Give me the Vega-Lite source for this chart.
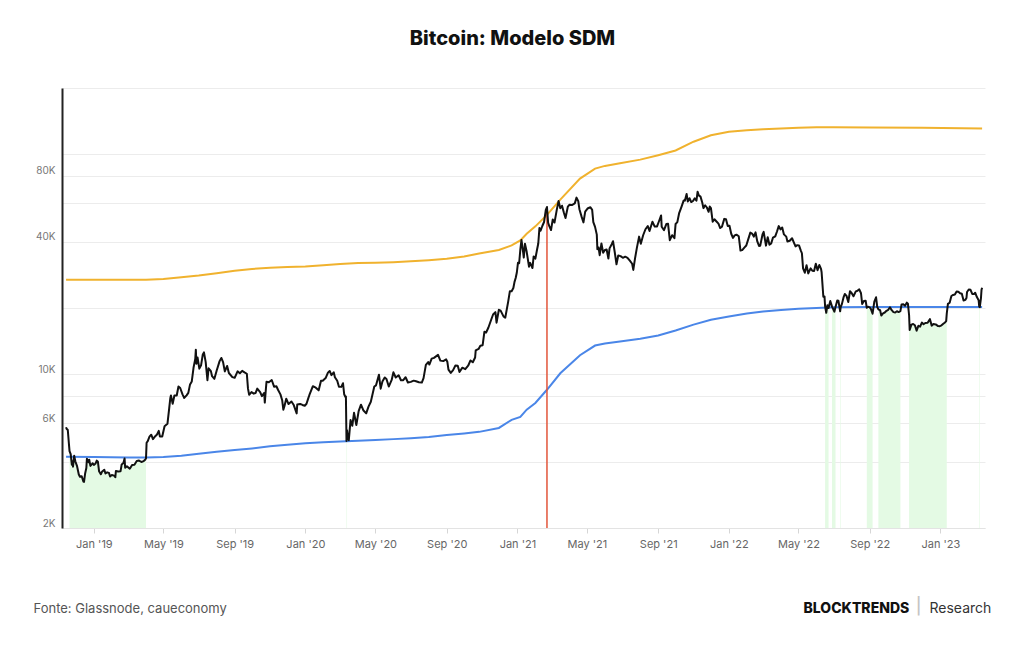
{
"$schema":"https://vega.github.io/schema/vega-lite/v6.json",
"width":923,"height":440,
"autosize":{"type":"none"},
"padding":{"left":62,"top":88,"right":39,"bottom":117},
"background":"white",
"title":{"text":"Bitcoin: Modelo SDM","font":"Inter","fontSize":20,"fontWeight":800,"color":"#111","anchor":"middle","offset":29,"dx":-11},
"config":{"view":{"stroke":null},"font":"Inter"},
"resolve":{"axis":{"x":"independent","y":"independent"}},
"datasets":{
"price":[
{"d":"2018-11-14","p":5740},{"d":"2018-11-15","p":5650},{"d":"2018-11-17","p":5580},{"d":"2018-11-19","p":4800},
{"d":"2018-11-20","p":4470,"g":1},{"d":"2018-11-22","p":4330,"g":1},{"d":"2018-11-24","p":3880,"g":1},{"d":"2018-11-25","p":4010,"g":1},{"d":"2018-11-26","p":3800,"g":1},{"d":"2018-11-28","p":4260,"g":1},{"d":"2018-11-30","p":4020,"g":1},
{"d":"2018-12-03","p":3820,"g":1},{"d":"2018-12-06","p":3500,"g":1},{"d":"2018-12-08","p":3420,"g":1},{"d":"2018-12-11","p":3440,"g":1},{"d":"2018-12-14","p":3250,"g":1},{"d":"2018-12-15","p":3240,"g":1},{"d":"2018-12-17","p":3550,"g":1},{"d":"2018-12-19","p":3750,"g":1},{"d":"2018-12-20","p":4130,"g":1},{"d":"2018-12-23","p":3980,"g":1},{"d":"2018-12-24","p":4090,"g":1},{"d":"2018-12-26","p":3830,"g":1},{"d":"2018-12-28","p":3880,"g":1},{"d":"2018-12-30","p":3940,"g":1},
{"d":"2019-01-01","p":3870,"g":1},{"d":"2019-01-04","p":3930,"g":1},{"d":"2019-01-06","p":4050,"g":1},{"d":"2019-01-08","p":4000,"g":1},{"d":"2019-01-10","p":3620,"g":1},{"d":"2019-01-13","p":3510,"g":1},{"d":"2019-01-15","p":3600,"g":1},{"d":"2019-01-19","p":3680,"g":1},{"d":"2019-01-21","p":3540,"g":1},{"d":"2019-01-24","p":3580,"g":1},{"d":"2019-01-27","p":3560,"g":1},{"d":"2019-01-29","p":3430,"g":1},
{"d":"2019-02-01","p":3480,"g":1},{"d":"2019-02-05","p":3460,"g":1},{"d":"2019-02-07","p":3400,"g":1},{"d":"2019-02-08","p":3630,"g":1},{"d":"2019-02-12","p":3610,"g":1},{"d":"2019-02-16","p":3620,"g":1},{"d":"2019-02-18","p":3890,"g":1},{"d":"2019-02-21","p":3950,"g":1},{"d":"2019-02-23","p":4140,"g":1},{"d":"2019-02-24","p":3760,"g":1},{"d":"2019-02-27","p":3820,"g":1},
{"d":"2019-03-04","p":3720,"g":1},{"d":"2019-03-08","p":3870,"g":1},{"d":"2019-03-12","p":3880,"g":1},{"d":"2019-03-16","p":4030,"g":1},{"d":"2019-03-20","p":4050,"g":1},{"d":"2019-03-24","p":3990,"g":1},{"d":"2019-03-28","p":4030,"g":1},{"d":"2019-03-31","p":4100,"g":1},{"d":"2019-04-01","p":4150,"g":1},
{"d":"2019-04-02","p":4880},{"d":"2019-04-04","p":4960},{"d":"2019-04-07","p":5200},{"d":"2019-04-10","p":5310},{"d":"2019-04-13","p":5070},{"d":"2019-04-17","p":5230},{"d":"2019-04-20","p":5320},{"d":"2019-04-23","p":5530},{"d":"2019-04-25","p":5210},{"d":"2019-04-29","p":5210},
{"d":"2019-05-03","p":5800},{"d":"2019-05-08","p":5950},{"d":"2019-05-11","p":6990},{"d":"2019-05-13","p":7800},{"d":"2019-05-14","p":8000},{"d":"2019-05-17","p":7340},{"d":"2019-05-20","p":8000},{"d":"2019-05-24","p":8000},{"d":"2019-05-27","p":8800},{"d":"2019-05-30","p":8660},
{"d":"2019-06-03","p":8100},{"d":"2019-06-06","p":7800},{"d":"2019-06-10","p":8020},{"d":"2019-06-13","p":8230},{"d":"2019-06-16","p":8990},{"d":"2019-06-19","p":9270},{"d":"2019-06-22","p":10700},{"d":"2019-06-25","p":11750},{"d":"2019-06-26","p":12930},{"d":"2019-06-27","p":11160},{"d":"2019-06-29","p":11900},
{"d":"2019-07-02","p":10600},{"d":"2019-07-05","p":10980},{"d":"2019-07-08","p":12300},{"d":"2019-07-10","p":12570},{"d":"2019-07-13","p":11350},{"d":"2019-07-16","p":9400},{"d":"2019-07-18","p":10640},{"d":"2019-07-22","p":10330},{"d":"2019-07-24","p":9800},{"d":"2019-07-28","p":9530},
{"d":"2019-08-01","p":10400},{"d":"2019-08-06","p":11470},{"d":"2019-08-09","p":11860},{"d":"2019-08-12","p":11350},{"d":"2019-08-15","p":10300},{"d":"2019-08-19","p":10900},{"d":"2019-08-22","p":10130},{"d":"2019-08-28","p":9700},
{"d":"2019-09-01","p":9630},{"d":"2019-09-06","p":10300},{"d":"2019-09-10","p":10100},{"d":"2019-09-14","p":10360},{"d":"2019-09-18","p":10200},{"d":"2019-09-22","p":10050},{"d":"2019-09-24","p":8600},{"d":"2019-09-26","p":8060},{"d":"2019-09-30","p":8290},
{"d":"2019-10-04","p":8160},{"d":"2019-10-07","p":8210},{"d":"2019-10-10","p":8600},{"d":"2019-10-15","p":8300},{"d":"2019-10-18","p":7950},{"d":"2019-10-22","p":8220},{"d":"2019-10-23","p":7430},{"d":"2019-10-25","p":8650},{"d":"2019-10-26","p":9250},{"d":"2019-10-30","p":9200},
{"d":"2019-11-04","p":9410},{"d":"2019-11-08","p":8780},{"d":"2019-11-12","p":8820},{"d":"2019-11-15","p":8480},{"d":"2019-11-19","p":8100},{"d":"2019-11-22","p":7620},{"d":"2019-11-24","p":6900},{"d":"2019-11-26","p":7170},{"d":"2019-11-29","p":7740},
{"d":"2019-12-03","p":7320},{"d":"2019-12-08","p":7520},{"d":"2019-12-12","p":7240},{"d":"2019-12-17","p":6640},{"d":"2019-12-18","p":7280},{"d":"2019-12-23","p":7330},{"d":"2019-12-27","p":7250},{"d":"2019-12-31","p":7190},
{"d":"2020-01-03","p":7340},{"d":"2020-01-06","p":7770},{"d":"2020-01-08","p":8050},{"d":"2020-01-14","p":8820},{"d":"2020-01-19","p":8690},{"d":"2020-01-24","p":8450},{"d":"2020-01-28","p":9340},{"d":"2020-01-31","p":9350},
{"d":"2020-02-05","p":9610},{"d":"2020-02-09","p":10170},{"d":"2020-02-12","p":10350},{"d":"2020-02-15","p":9900},{"d":"2020-02-19","p":10200},{"d":"2020-02-21","p":9690},{"d":"2020-02-25","p":9340},{"d":"2020-02-28","p":8780},
{"d":"2020-03-03","p":8760},{"d":"2020-03-06","p":9100},{"d":"2020-03-08","p":8110},{"d":"2020-03-10","p":7900},{"d":"2020-03-11","p":7920},{"d":"2020-03-12","p":4970,"g":2},{"d":"2020-03-13","p":5560,"g":2},{"d":"2020-03-14","p":5200},{"d":"2020-03-16","p":5010},{"d":"2020-03-19","p":6190},{"d":"2020-03-22","p":5830},{"d":"2020-03-25","p":6680},{"d":"2020-03-29","p":5880},
{"d":"2020-04-02","p":6800},{"d":"2020-04-06","p":7270},{"d":"2020-04-10","p":6860},{"d":"2020-04-15","p":6640},{"d":"2020-04-19","p":7120},{"d":"2020-04-23","p":7500},{"d":"2020-04-29","p":8790},
{"d":"2020-05-02","p":8900},{"d":"2020-05-07","p":9950},{"d":"2020-05-10","p":8600},{"d":"2020-05-13","p":9270},{"d":"2020-05-17","p":9670},{"d":"2020-05-20","p":9520},{"d":"2020-05-24","p":8790},{"d":"2020-05-29","p":9420},
{"d":"2020-06-01","p":10200},{"d":"2020-06-05","p":9660},{"d":"2020-06-10","p":9890},{"d":"2020-06-14","p":9390},{"d":"2020-06-18","p":9400},{"d":"2020-06-22","p":9690},{"d":"2020-06-26","p":9170},
{"d":"2020-07-01","p":9230},{"d":"2020-07-06","p":9350},{"d":"2020-07-10","p":9290},{"d":"2020-07-15","p":9200},{"d":"2020-07-20","p":9160},{"d":"2020-07-23","p":9600},{"d":"2020-07-27","p":11030},{"d":"2020-07-31","p":11350},
{"d":"2020-08-02","p":11070},{"d":"2020-08-06","p":11770},{"d":"2020-08-10","p":11870},{"d":"2020-08-17","p":12250},{"d":"2020-08-21","p":11530},{"d":"2020-08-26","p":11470},{"d":"2020-08-31","p":11680},
{"d":"2020-09-02","p":11400},{"d":"2020-09-04","p":10500},{"d":"2020-09-08","p":10140},{"d":"2020-09-12","p":10440},{"d":"2020-09-16","p":10950},{"d":"2020-09-20","p":10920},{"d":"2020-09-23","p":10240},{"d":"2020-09-28","p":10710},
{"d":"2020-10-03","p":10540},{"d":"2020-10-08","p":10930},{"d":"2020-10-12","p":11550},{"d":"2020-10-16","p":11330},{"d":"2020-10-20","p":11920},{"d":"2020-10-21","p":12820},{"d":"2020-10-26","p":13030},{"d":"2020-10-29","p":13460},
{"d":"2020-11-02","p":13550},{"d":"2020-11-05","p":15590},{"d":"2020-11-08","p":15480},{"d":"2020-11-12","p":16300},{"d":"2020-11-17","p":17780},{"d":"2020-11-20","p":18680},{"d":"2020-11-24","p":19160},{"d":"2020-11-26","p":17150},{"d":"2020-11-30","p":19630},
{"d":"2020-12-03","p":19450},{"d":"2020-12-08","p":18320},{"d":"2020-12-11","p":18060},{"d":"2020-12-16","p":21310},{"d":"2020-12-19","p":23860},{"d":"2020-12-22","p":23840},{"d":"2020-12-25","p":24660},{"d":"2020-12-27","p":26300},{"d":"2020-12-29","p":27360},{"d":"2020-12-31","p":29000},
{"d":"2021-01-02","p":32130},{"d":"2021-01-04","p":31970},{"d":"2021-01-06","p":36770},{"d":"2021-01-08","p":40800},{"d":"2021-01-11","p":35570},{"d":"2021-01-12","p":33920},{"d":"2021-01-14","p":39190},{"d":"2021-01-17","p":36020},{"d":"2021-01-21","p":30830},{"d":"2021-01-23","p":32080},{"d":"2021-01-27","p":30400},{"d":"2021-01-29","p":34320},
{"d":"2021-02-01","p":33540},{"d":"2021-02-04","p":37010},{"d":"2021-02-06","p":39290},{"d":"2021-02-08","p":46200},{"d":"2021-02-10","p":44880},{"d":"2021-02-13","p":47170},{"d":"2021-02-16","p":49190},{"d":"2021-02-19","p":55890},{"d":"2021-02-21","p":57540},{"d":"2021-02-23","p":48820},{"d":"2021-02-25","p":47090},{"d":"2021-02-28","p":45240},
{"d":"2021-03-03","p":50540},{"d":"2021-03-06","p":48910},{"d":"2021-03-10","p":55960},{"d":"2021-03-13","p":61240},{"d":"2021-03-16","p":56830},{"d":"2021-03-19","p":58350},{"d":"2021-03-22","p":54530},{"d":"2021-03-25","p":51300},{"d":"2021-03-29","p":57750},
{"d":"2021-04-01","p":58920},{"d":"2021-04-05","p":58760},{"d":"2021-04-10","p":59770},{"d":"2021-04-13","p":63500},{"d":"2021-04-16","p":61220},{"d":"2021-04-18","p":56240},{"d":"2021-04-22","p":51760},{"d":"2021-04-25","p":49000},{"d":"2021-04-28","p":54840},
{"d":"2021-05-02","p":56640},{"d":"2021-05-07","p":57400},{"d":"2021-05-10","p":55860},{"d":"2021-05-12","p":49150},{"d":"2021-05-15","p":46760},{"d":"2021-05-18","p":43110},{"d":"2021-05-19","p":37000},{"d":"2021-05-21","p":37700},{"d":"2021-05-23","p":34770},{"d":"2021-05-26","p":39290},{"d":"2021-05-29","p":35680},
{"d":"2021-06-01","p":36680},{"d":"2021-06-04","p":36890},{"d":"2021-06-07","p":33560},{"d":"2021-06-09","p":37340},{"d":"2021-06-13","p":39100},{"d":"2021-06-15","p":40220},{"d":"2021-06-18","p":35840},{"d":"2021-06-21","p":31600},{"d":"2021-06-24","p":34660},{"d":"2021-06-28","p":34430},
{"d":"2021-07-02","p":33820},{"d":"2021-07-06","p":34230},{"d":"2021-07-10","p":33820},{"d":"2021-07-14","p":32820},{"d":"2021-07-18","p":31780},{"d":"2021-07-20","p":29800},{"d":"2021-07-23","p":33590},{"d":"2021-07-26","p":37340},{"d":"2021-07-30","p":42210},
{"d":"2021-08-02","p":39200},{"d":"2021-08-06","p":42820},{"d":"2021-08-10","p":45600},{"d":"2021-08-14","p":47120},{"d":"2021-08-17","p":44800},{"d":"2021-08-22","p":49300},{"d":"2021-08-26","p":46900},{"d":"2021-08-30","p":46990},
{"d":"2021-09-02","p":49330},{"d":"2021-09-06","p":52700},{"d":"2021-09-07","p":46810},{"d":"2021-09-11","p":45160},{"d":"2021-09-15","p":48150},{"d":"2021-09-18","p":48270},{"d":"2021-09-21","p":40690},{"d":"2021-09-25","p":42840},{"d":"2021-09-29","p":41560},
{"d":"2021-10-01","p":48200},{"d":"2021-10-04","p":49110},{"d":"2021-10-07","p":53800},{"d":"2021-10-11","p":57470},{"d":"2021-10-15","p":61670},{"d":"2021-10-17","p":61530},{"d":"2021-10-20","p":66000},{"d":"2021-10-22","p":61010},{"d":"2021-10-25","p":63080},{"d":"2021-10-28","p":60620},{"d":"2021-10-31","p":61300},
{"d":"2021-11-03","p":62970},{"d":"2021-11-06","p":61480},{"d":"2021-11-08","p":67560},{"d":"2021-11-10","p":64990},{"d":"2021-11-13","p":64150},{"d":"2021-11-16","p":60370},{"d":"2021-11-18","p":56890},{"d":"2021-11-21","p":58620},{"d":"2021-11-24","p":57260},{"d":"2021-11-27","p":54760},{"d":"2021-11-29","p":57810},
{"d":"2021-12-01","p":56950},{"d":"2021-12-04","p":49330},{"d":"2021-12-07","p":50640},{"d":"2021-12-11","p":49320},{"d":"2021-12-14","p":48380},{"d":"2021-12-17","p":46180},{"d":"2021-12-20","p":46840},{"d":"2021-12-24","p":50830},{"d":"2021-12-27","p":50640},{"d":"2021-12-30","p":47180},
{"d":"2022-01-02","p":47340},{"d":"2022-01-05","p":43500},{"d":"2022-01-08","p":41640},{"d":"2022-01-11","p":42740},{"d":"2022-01-14","p":43100},{"d":"2022-01-18","p":42380},{"d":"2022-01-21","p":36470},{"d":"2022-01-24","p":36650},{"d":"2022-01-28","p":37710},{"d":"2022-01-31","p":38480},
{"d":"2022-02-04","p":41570},{"d":"2022-02-07","p":44010},{"d":"2022-02-10","p":43570},{"d":"2022-02-13","p":42220},{"d":"2022-02-16","p":44150},{"d":"2022-02-19","p":40120},{"d":"2022-02-22","p":38300},{"d":"2022-02-24","p":38330},{"d":"2022-02-28","p":43190},
{"d":"2022-03-02","p":44400},{"d":"2022-03-06","p":38420},{"d":"2022-03-09","p":41980},{"d":"2022-03-12","p":38810},{"d":"2022-03-15","p":39340},{"d":"2022-03-18","p":41750},{"d":"2022-03-22","p":42360},{"d":"2022-03-25","p":44540},{"d":"2022-03-28","p":47140},{"d":"2022-03-31","p":45540},
{"d":"2022-04-03","p":46450},{"d":"2022-04-06","p":43210},{"d":"2022-04-10","p":42210},{"d":"2022-04-12","p":40100},{"d":"2022-04-16","p":40420},{"d":"2022-04-20","p":41500},{"d":"2022-04-23","p":39740},{"d":"2022-04-26","p":38120},{"d":"2022-04-29","p":38600},
{"d":"2022-05-02","p":38520},{"d":"2022-05-05","p":36580},{"d":"2022-05-07","p":35470},{"d":"2022-05-09","p":30300},{"d":"2022-05-12","p":28940},{"d":"2022-05-15","p":31300},{"d":"2022-05-18","p":28720},{"d":"2022-05-22","p":30290},{"d":"2022-05-25","p":29540},{"d":"2022-05-28","p":29440},{"d":"2022-05-31","p":31790},
{"d":"2022-06-03","p":29700},{"d":"2022-06-06","p":31370},{"d":"2022-06-09","p":30110},{"d":"2022-06-10","p":29090},{"d":"2022-06-13","p":22490},{"d":"2022-06-15","p":22580},{"d":"2022-06-16","p":20380,"g":3},{"d":"2022-06-18","p":19020,"g":3},{"d":"2022-06-20","p":20600,"g":3},{"d":"2022-06-22","p":19990,"g":3},{"d":"2022-06-25","p":21500},{"d":"2022-06-28","p":20280,"g":4},{"d":"2022-06-30","p":19780,"g":4},
{"d":"2022-07-02","p":19240,"g":4},{"d":"2022-07-04","p":20230,"g":4},{"d":"2022-07-07","p":21640},{"d":"2022-07-09","p":21590},{"d":"2022-07-12","p":19330,"g":5},{"d":"2022-07-13","p":20230,"g":5},{"d":"2022-07-15","p":20830},{"d":"2022-07-18","p":22430},{"d":"2022-07-20","p":23160},{"d":"2022-07-23","p":22710},{"d":"2022-07-26","p":21300},{"d":"2022-07-29","p":23840},
{"d":"2022-08-01","p":23340},{"d":"2022-08-04","p":22610},{"d":"2022-08-08","p":23800},{"d":"2022-08-11","p":23960},{"d":"2022-08-14","p":24310},{"d":"2022-08-17","p":23340},{"d":"2022-08-19","p":20880},{"d":"2022-08-22","p":21520},{"d":"2022-08-25","p":21570},{"d":"2022-08-27","p":20030,"g":6},{"d":"2022-08-29","p":20280,"g":6},
{"d":"2022-09-01","p":20130,"g":6},{"d":"2022-09-03","p":19830,"g":6},{"d":"2022-09-06","p":18840,"g":6},{"d":"2022-09-09","p":21360},{"d":"2022-09-12","p":22370},{"d":"2022-09-14","p":20230},{"d":"2022-09-16","p":19700,"g":7},{"d":"2022-09-19","p":19540,"g":7},{"d":"2022-09-21","p":18480,"g":7},{"d":"2022-09-24","p":18920,"g":7},{"d":"2022-09-27","p":19080,"g":7},{"d":"2022-09-30","p":19430,"g":7},
{"d":"2022-10-03","p":19630,"g":7},{"d":"2022-10-06","p":20160,"g":7},{"d":"2022-10-09","p":19550,"g":7},{"d":"2022-10-12","p":19150,"g":7},{"d":"2022-10-15","p":19070,"g":7},{"d":"2022-10-18","p":19330,"g":7},{"d":"2022-10-21","p":19170,"g":7},{"d":"2022-10-24","p":19340,"g":7},{"d":"2022-10-26","p":20770},{"d":"2022-10-29","p":20820},
{"d":"2022-11-01","p":20480},{"d":"2022-11-04","p":21150},{"d":"2022-11-06","p":20900},{"d":"2022-11-08","p":18540,"g":8},{"d":"2022-11-09","p":15880,"g":8},{"d":"2022-11-12","p":16800,"g":8},{"d":"2022-11-15","p":16910,"g":8},{"d":"2022-11-18","p":16690,"g":8},{"d":"2022-11-21","p":15780,"g":8},{"d":"2022-11-24","p":16600,"g":8},{"d":"2022-11-27","p":16460,"g":8},{"d":"2022-11-30","p":17170,"g":8},
{"d":"2022-12-03","p":16890,"g":8},{"d":"2022-12-06","p":17090,"g":8},{"d":"2022-12-10","p":17130,"g":8},{"d":"2022-12-14","p":17800,"g":8},{"d":"2022-12-17","p":16630,"g":8},{"d":"2022-12-20","p":16900,"g":8},{"d":"2022-12-24","p":16840,"g":8},{"d":"2022-12-28","p":16550,"g":8},{"d":"2022-12-31","p":16540,"g":8},
{"d":"2023-01-03","p":16680,"g":8},{"d":"2023-01-06","p":16950,"g":8},{"d":"2023-01-09","p":17190,"g":8},{"d":"2023-01-11","p":17440,"g":8},{"d":"2023-01-12","p":18850,"g":8},{"d":"2023-01-14","p":20880},{"d":"2023-01-17","p":21140},{"d":"2023-01-20","p":22680},{"d":"2023-01-23","p":22930},{"d":"2023-01-26","p":23010},{"d":"2023-01-29","p":23770},
{"d":"2023-02-01","p":23720},{"d":"2023-02-04","p":23330},{"d":"2023-02-07","p":23240},{"d":"2023-02-10","p":21630},{"d":"2023-02-13","p":21780},{"d":"2023-02-15","p":22200},{"d":"2023-02-16","p":23640},{"d":"2023-02-19","p":24280},{"d":"2023-02-22","p":24190},{"d":"2023-02-25","p":23160},{"d":"2023-02-28","p":23140},
{"d":"2023-03-02","p":23470},{"d":"2023-03-05","p":22430},{"d":"2023-03-08","p":21710},{"d":"2023-03-09","p":20360,"g":9},{"d":"2023-03-10","p":20190,"g":9},{"d":"2023-03-12","p":22140},{"d":"2023-03-13","p":24200},{"d":"2023-03-14","p":24750}
],
"band":[
{"d":"2018-11-14","lo":4220,"hi":26900},{"d":"2019-01-01","lo":4200,"hi":26900},{"d":"2019-03-01","lo":4180,"hi":26850},{"d":"2019-04-01","lo":4180,"hi":26900},{"d":"2019-05-01","lo":4200,"hi":27100},{"d":"2019-06-01","lo":4260,"hi":27600},{"d":"2019-07-01","lo":4350,"hi":28100},{"d":"2019-08-01","lo":4440,"hi":28800},{"d":"2019-09-01","lo":4520,"hi":29500},{"d":"2019-10-01","lo":4600,"hi":30100},{"d":"2019-11-01","lo":4700,"hi":30500},{"d":"2019-12-01","lo":4780,"hi":30700},
{"d":"2020-01-01","lo":4860,"hi":30900},{"d":"2020-02-01","lo":4910,"hi":31300},{"d":"2020-03-01","lo":4950,"hi":31700},{"d":"2020-04-01","lo":4990,"hi":32000},{"d":"2020-05-01","lo":5030,"hi":32100},{"d":"2020-06-01","lo":5070,"hi":32300},{"d":"2020-07-01","lo":5120,"hi":32600},{"d":"2020-08-01","lo":5190,"hi":33000},{"d":"2020-09-01","lo":5290,"hi":33500},{"d":"2020-10-01","lo":5380,"hi":34300},{"d":"2020-10-27","lo":5470,"hi":35400},{"d":"2020-11-30","lo":5700,"hi":36700},{"d":"2020-12-22","lo":6200,"hi":38500},
{"d":"2021-01-06","lo":6400,"hi":40600},{"d":"2021-01-17","lo":6900,"hi":43500},{"d":"2021-02-01","lo":7400,"hi":47000},{"d":"2021-02-21","lo":8500,"hi":53000},{"d":"2021-03-16","lo":10100,"hi":62200},{"d":"2021-04-19","lo":12200,"hi":77500},{"d":"2021-05-15","lo":13500,"hi":86000},{"d":"2021-06-01","lo":13800,"hi":88500},{"d":"2021-06-27","lo":14100,"hi":91000},{"d":"2021-08-01","lo":14500,"hi":94500},{"d":"2021-09-01","lo":15000,"hi":99000},{"d":"2021-10-01","lo":15800,"hi":104000},{"d":"2021-11-01","lo":16800,"hi":114000},{"d":"2021-12-01","lo":17700,"hi":122000},
{"d":"2022-01-01","lo":18300,"hi":126500},{"d":"2022-02-01","lo":18900,"hi":128500},{"d":"2022-03-01","lo":19300,"hi":130000},{"d":"2022-04-01","lo":19600,"hi":131000},{"d":"2022-05-01","lo":19850,"hi":132000},{"d":"2022-06-01","lo":20000,"hi":132500},{"d":"2022-07-01","lo":20150,"hi":132500},{"d":"2022-09-01","lo":20200,"hi":132300},{"d":"2022-12-01","lo":20200,"hi":132000},{"d":"2023-03-14","lo":20200,"hi":131000}
],
"event":[{"d":"2021-02-21","p":57540}]
},
"layer":[
{"data":{"name":"price"},"transform":[{"filter":"isValid(datum.g)"}],
 "mark":{"type":"area","color":"#e4fae4","opacity":1},
 "encoding":{
  "x":{"field":"d","type":"temporal","scale":{"domain":[{"year":2018,"month":11,"date":7},{"year":2023,"month":3,"date":19}]},
   "axis":{"orient":"bottom","grid":false,"tickCount":{"interval":"month","step":4},"format":"%b '%y","labelFont":"Inter","labelFontSize":11,"labelColor":"#666","labelPadding":5,"ticks":true,"tickSize":5,"tickColor":"#d6d6d6","domainColor":"#e3e3e3","domainWidth":1,"labelFlush":false,"labelOverlap":false,
    "title":"Fonte: Glassnode, caueconomy","titleFont":"Inter","titleFontSize":13,"titleFontWeight":"normal","titleColor":"#555","titleAnchor":"start","titleAlign":"left","titleBaseline":"alphabetic","titleX":-29,"titleY":84}},
  "y":{"field":"p","type":"quantitative","stack":null,"scale":{"type":"log","domain":[2000,200000],"nice":false},
   "axis":{"orient":"left","values":[2000,4000,6000,8000,10000,20000,40000,60000,80000,100000,200000],"labelExpr":"(datum.value == 2000 || datum.value == 6000 || datum.value == 10000 || datum.value == 40000 || datum.value == 80000) ? (datum.value/1000) + 'K' : ''","grid":true,"gridColor":"#ececec","gridWidth":1,"ticks":false,"domain":true,"domainColor":"#222","domainWidth":2,"labelFont":"Inter","labelFontSize":10,"labelColor":"#777","labelPadding":7,"labelBaseline":"bottom","labelOverlap":false,
    "title":"|","titleFont":"DejaVu Sans","titleFontSize":20,"titleFontWeight":"normal","titleColor":"#c4c4c4","titleAngle":0,"titleAlign":"center","titleBaseline":"alphabetic","titleX":856,"titleY":522}},
  "y2":{"datum":2000},
  "detail":{"field":"g","type":"nominal"}}},
{"data":{"name":"band"},
 "mark":{"type":"line","color":"#f0b22e","strokeWidth":2},
 "encoding":{
  "x":{"field":"d","type":"temporal","axis":{"orient":"top","labels":false,"ticks":false,"domain":false,"grid":false,"title":"BLOCKTRENDS","titleFont":"Inter","titleFontSize":14,"titleFontWeight":800,"titleColor":"#111","titleAnchor":"start","titleAlign":"left","titleBaseline":"alphabetic","titleX":741,"titleY":524}},
  "y":{"field":"hi","type":"quantitative","axis":{"orient":"right","labels":false,"ticks":false,"domain":false,"grid":false,"title":"Research","titleFont":"Inter","titleFontSize":14,"titleFontWeight":"normal","titleColor":"#333","titleAngle":0,"titleAnchor":"start","titleAlign":"left","titleBaseline":"alphabetic","titleX":-56,"titleY":524}}}},
{"data":{"name":"band"},
 "mark":{"type":"line","color":"#4a86e8","strokeWidth":2},
 "encoding":{
  "x":{"field":"d","type":"temporal","axis":null},
  "y":{"field":"lo","type":"quantitative","axis":null}}},
{"data":{"name":"event"},
 "mark":{"type":"rule","color":"#e2553a","strokeWidth":1.5},
 "encoding":{
  "x":{"field":"d","type":"temporal","axis":null},
  "y":{"field":"p","type":"quantitative","axis":null},
  "y2":{"datum":2000}}},
{"data":{"name":"price"},
 "mark":{"type":"line","color":"#111","strokeWidth":2,"strokeJoin":"round"},
 "encoding":{
  "x":{"field":"d","type":"temporal","axis":null},
  "y":{"field":"p","type":"quantitative","axis":null}}}
]
}
